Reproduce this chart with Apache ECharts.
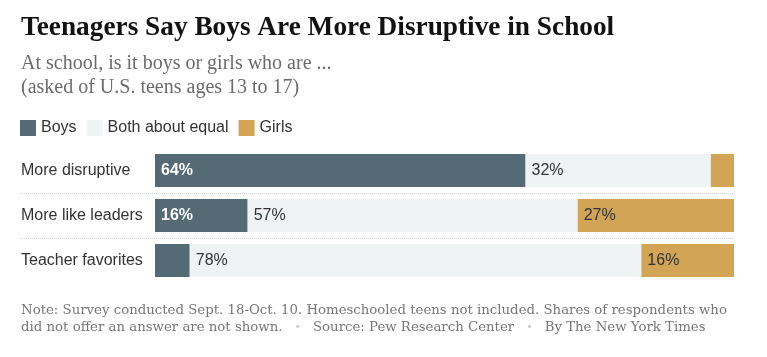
<!DOCTYPE html>
<html><head><meta charset="utf-8">
<script src="https://cdn.jsdelivr.net/npm/echarts@6/dist/echarts.min.js"></script>
<style>html,body{margin:0;padding:0;background:#fff}#c{width:767px;height:357px}</style>
</head><body><div id="c"></div>
<script>
const categories = ['More disruptive', 'More like leaders', 'Teacher favorites'];
const boys = [64, 16, 6];
const equal = [32, 57, 78];
const girls = [4, 27, 16];
const seriesNames = ['Boys', 'Both about equal', 'Girls'];

const chart = echarts.init(document.getElementById('c'));
const lbl = (color, weight) => ({
  show: true, position: 'insideLeft', distance: 6,
  color: color, fontWeight: weight, fontSize: 16, fontFamily: 'Liberation Sans',
  formatter: p => p.value >= 10 ? p.value + '%' : ''
});
chart.setOption({
  animation: false,
  title: [
    { text: 'Teenagers Say Boys Are More Disruptive in School', left: 21, top: 13, padding: 0,
      textStyle: { fontFamily: 'Liberation Serif', fontWeight: 'bold', fontSize: 27.3, lineHeight: 30, color: '#121212' } },
    { text: 'At school, is it boys or girls who are ...\n(asked of U.S. teens ages 13 to 17)', left: 21, top: 52, padding: 0,
      textStyle: { fontFamily: 'Liberation Serif', fontWeight: 'normal', fontSize: 20, lineHeight: 24, color: '#6b6b6b' } },
    { text: 'Note: Survey conducted Sept. 18-Oct. 10. Homeschooled teens not included. Shares of respondents who\ndid not offer an answer are not shown.{d|•}Source: Pew Research Center{d|•}By The New York Times',
      left: 21, top: 302, padding: 0,
      textStyle: { fontFamily: 'DejaVu Serif', fontWeight: 'normal', fontSize: 13.3, lineHeight: 17, color: '#777',
        rich: { d: { color: '#ccc', fontSize: 11, padding: [0, 12, 0, 12], fontFamily: 'DejaVu Sans' } } } }
  ],
  legend: {
    data: seriesNames, left: 20, top: 120, padding: 0, itemWidth: 16, itemHeight: 16, itemGap: 10,
    icon: 'rect', textStyle: { fontFamily: 'Liberation Sans', fontSize: 16, color: '#333' }
  },
  grid: [
    { left: 155, right: 33, top: 148, height: 135 },
    { left: 20, right: 33, top: 193, height: 45 }
  ],
  xAxis: [
    { type: 'value', min: 0, max: 100, show: false, gridIndex: 0 },
    { type: 'value', min: 0, max: 1, show: false, gridIndex: 1 }
  ],
  yAxis: [
    { type: 'category', data: categories, inverse: true, gridIndex: 0,
      axisLine: { show: false }, axisTick: { show: false }, splitLine: { show: false },
      axisLabel: { align: 'left', margin: 134, color: '#333', fontSize: 16, fontFamily: 'Liberation Sans' } },
    { type: 'value', min: 0, max: 1, interval: 1, gridIndex: 1,
      axisLine: { show: false }, axisTick: { show: false }, axisLabel: { show: false },
      splitLine: { show: true, lineStyle: { type: 'dotted', color: '#cfcfcf', width: 1 } } }
  ],
  series: [
    { name: seriesNames[0], type: 'bar', stack: 's', data: boys, barWidth: 33,
      itemStyle: { color: '#546a74' }, label: lbl('#fff', 'bold') },
    { name: seriesNames[1], type: 'bar', stack: 's', data: equal, barWidth: 33,
      itemStyle: { color: '#eff3f4' }, label: lbl('#333', 'normal') },
    { name: seriesNames[2], type: 'bar', stack: 's', data: girls, barWidth: 33,
      itemStyle: { color: '#d1a456' }, label: lbl('#333', 'normal') }
  ]
});
</script></body></html>
